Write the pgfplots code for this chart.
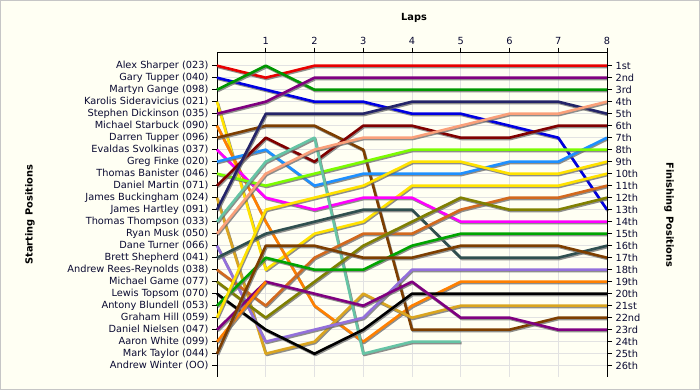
\documentclass[border=0pt]{standalone}
\usepackage{pgfplots}
\pgfplotsset{compat=1.18}
\usepackage{fontspec}
\setmainfont{DejaVu Sans}
\definecolor{bg}{RGB}{255,255,243}
\definecolor{labelc}{RGB}{10,10,50}
\definecolor{shadowc}{RGB}{105,105,105}
\definecolor{cRed}{RGB}{232,0,0}
\definecolor{cBlue}{RGB}{0,0,225}
\definecolor{cGreen}{RGB}{0,150,0}
\definecolor{cYellow}{RGB}{255,226,0}
\definecolor{cPurple}{RGB}{128,0,128}
\definecolor{cOrange}{RGB}{255,128,0}
\definecolor{cBrown}{RGB}{125,62,0}
\definecolor{cMagenta}{RGB}{255,0,255}
\definecolor{cDodger}{RGB}{30,144,255}
\definecolor{cLawn}{RGB}{124,252,0}
\definecolor{cDarkRed}{RGB}{128,0,0}
\definecolor{cGold}{RGB}{218,165,32}
\definecolor{cNavy}{RGB}{36,36,104}
\definecolor{cTeal}{RGB}{102,196,165}
\definecolor{cSalmon}{RGB}{250,160,122}
\definecolor{cMedPurple}{RGB}{147,112,219}
\definecolor{cSlate}{RGB}{47,79,79}
\definecolor{cChoc}{RGB}{210,105,30}
\definecolor{cOlive}{RGB}{128,128,0}
\definecolor{cForest}{RGB}{0,165,0}
\begin{document}
\begin{tikzpicture}[font=\fontsize{9.8bp}{11bp}\selectfont]
\fill[bg] (0,0) rectangle (700bp,390bp);
\draw[gray!45, line width=0.8bp] (0.4bp,0.4bp) rectangle (699.6bp,389.6bp);
\begin{axis}[
  at={(217bp,13.3bp)}, anchor=south west,
  scale only axis, width=390bp, height=324bp,
  xmin=0, xmax=8, ymin=-0.083, ymax=26.917, y dir=reverse,
  axis x line*=top, axis y line*=left,
  xtick={1,...,8}, ytick={1,...,26},
  yticklabels={Alex Sharper (023),Gary Tupper (040),Martyn Gange (098),Karolis Sideravicius (021),Stephen Dickinson (035),Michael Starbuck (090),Darren Tupper (096),Evaldas Svolkinas (037),Greg Finke (020),Thomas Banister (046),Daniel Martin (071),James Buckingham (024),James Hartley (091),Thomas Thompson (033),Ryan Musk (050),Dane Turner (066),Brett Shepherd (041),Andrew Rees-Reynolds (038),Michael Game (077),Lewis Topsom (070),Antony Blundell (053),Graham Hill (059),Daniel Nielsen (047),Aaron White (099),Mark Taylor (044),Andrew Winter (OO)},
  /pgf/number format/assume math mode=true,
  tick align=outside, major tick length=5bp,
  xmajorgrids, ymajorgrids,
  grid style={draw={rgb,255:red,226;green,226;blue,226}, line width=0.8bp},
  axis line style={black, line width=0.9bp, -},
  tick style={black, line width=0.8bp},
  ticklabel style={text=labelc, font=\fontsize{9.8bp}{11bp}\selectfont},
  clip=false,
  every axis plot/.append style={line width=2.6bp, line join=round, mark=none,
    preaction={draw=shadowc, draw opacity=0.75, transform canvas={shift={(0.9bp,-1.3bp)}}}},
]
% Alex Sharper
\addplot[cRed] coordinates {(0,1)(1,2)(2,1)(3,1)(4,1)(5,1)(6,1)(7,1)(8,1)};
% Gary Tupper
\addplot[cBlue] coordinates {(0,2)(1,3)(2,4)(3,4)(4,5)(5,5)(6,6)(7,7)(8,13)};
% Martyn Gange
\addplot[cGreen] coordinates {(0,3)(1,1)(2,3)(3,3)(4,3)(5,3)(6,3)(7,3)(8,3)};
% Karolis Sideravicius
\addplot[cYellow] coordinates {(0,4)(1,18)(2,15)(3,14)(4,11)(5,11)(6,11)(7,11)(8,10)};
% Stephen Dickinson
\addplot[cPurple] coordinates {(0,5)(1,4)(2,2)(3,2)(4,2)(5,2)(6,2)(7,2)(8,2)};
% Michael Starbuck
\addplot[cOrange] coordinates {(0,6)(1,14)(2,21)(3,24)(4,21)(5,19)(6,19)(7,19)(8,19)};
% Darren Tupper
\addplot[cBrown] coordinates {(0,7)(1,6)(2,6)(3,8)(4,23)(5,23)(6,23)(7,22)(8,22)};
% Evaldas Svolkinas
\addplot[cMagenta] coordinates {(0,8)(1,12)(2,13)(3,12)(4,12)(5,14)(6,14)(7,14)(8,14)};
% Greg Finke
\addplot[cDodger] coordinates {(0,9)(1,8)(2,11)(3,10)(4,10)(5,10)(6,9)(7,9)(8,7)};
% Thomas Banister
\addplot[cLawn] coordinates {(0,10)(1,11)(2,10)(3,9)(4,8)(5,8)(6,8)(7,8)(8,8)};
% Daniel Martin
\addplot[cDarkRed] coordinates {(0,11)(1,7)(2,9)(3,6)(4,6)(5,7)(6,7)(7,6)(8,6)};
% James Buckingham
\addplot[cGold] coordinates {(0,12)(1,25)(2,24)(3,20)(4,22)(5,21)(6,21)(7,21)(8,21)};
% James Hartley
\addplot[cNavy] coordinates {(0,13)(1,5)(2,5)(3,5)(4,4)(5,4)(6,4)(7,4)(8,5)};
% Thomas Thompson
\addplot[cTeal] coordinates {(0,14)(1,9)(2,7)(3,25)(4,24)(5,24)};
% Ryan Musk
\addplot[cSalmon] coordinates {(0,15)(1,10)(2,8)(3,7)(4,7)(5,6)(6,5)(7,5)(8,4)};
% Dane Turner
\addplot[cMedPurple] coordinates {(0,16)(1,24)(2,23)(3,22)(4,18)(5,18)(6,18)(7,18)(8,18)};
% Brett Shepherd
\addplot[cSlate] coordinates {(0,17)(1,15)(2,14)(3,13)(4,13)(5,17)(6,17)(7,17)(8,16)};
% Andrew Rees-Reynolds
\addplot[cChoc] coordinates {(0,18)(1,21)(2,17)(3,15)(4,15)(5,13)(6,12)(7,12)(8,11)};
% Michael Game
\addplot[cOlive] coordinates {(0,19)(1,22)(2,19)(3,16)(4,14)(5,12)(6,13)(7,13)(8,12)};
% Lewis Topsom
\addplot[black] coordinates {(0,20)(1,23)(2,25)(3,23)(4,20)(5,20)(6,20)(7,20)(8,20)};
% Antony Blundell
\addplot[cForest] coordinates {(0,21)(1,17)(2,18)(3,18)(4,16)(5,15)(6,15)(7,15)(8,15)};
% Graham Hill
\addplot[cYellow] coordinates {(0,22)(1,13)(2,12)(3,11)(4,9)(5,9)(6,10)(7,10)(8,9)};
% Daniel Nielsen
\addplot[cPurple] coordinates {(0,23)(1,19)(2,20)(3,21)(4,19)(5,22)(6,22)(7,23)(8,23)};
% Aaron White
\addplot[cOrange] coordinates {(0,24)(1,19)};
% Mark Taylor
\addplot[cBrown] coordinates {(0,25)(1,16)(2,16)(3,17)(4,17)(5,16)(6,16)(7,16)(8,17)};
\end{axis}
\begin{axis}[
  at={(217bp,13.3bp)}, anchor=south west,
  scale only axis, width=390bp, height=324bp,
  xmin=0, xmax=8, ymin=-0.083, ymax=26.917, y dir=reverse,
  axis x line=none, axis y line*=right,
  ytick={1,...,26},
  yticklabels={1st,2nd,3rd,4th,5th,6th,7th,8th,9th,10th,11th,12th,13th,14th,15th,16th,17th,18th,19th,20th,21st,22nd,23rd,24th,25th,26th},
  tick align=outside, major tick length=5bp,
  axis line style={black, line width=0.9bp, -},
  tick style={black, line width=0.8bp},
  ticklabel style={text=labelc, font=\fontsize{9.8bp}{11bp}\selectfont},
]
\end{axis}
\node[font=\bfseries\fontsize{9.8bp}{11bp}\selectfont] at (414bp,372bp) {Laps};
\node[font=\bfseries\fontsize{9.8bp}{11bp}\selectfont, rotate=90] at (30bp,175.3bp) {Starting Positions};
\node[font=\bfseries\fontsize{9.8bp}{11bp}\selectfont, rotate=-90] at (669bp,175.3bp) {Finishing Positions};
\end{tikzpicture}
\end{document}
